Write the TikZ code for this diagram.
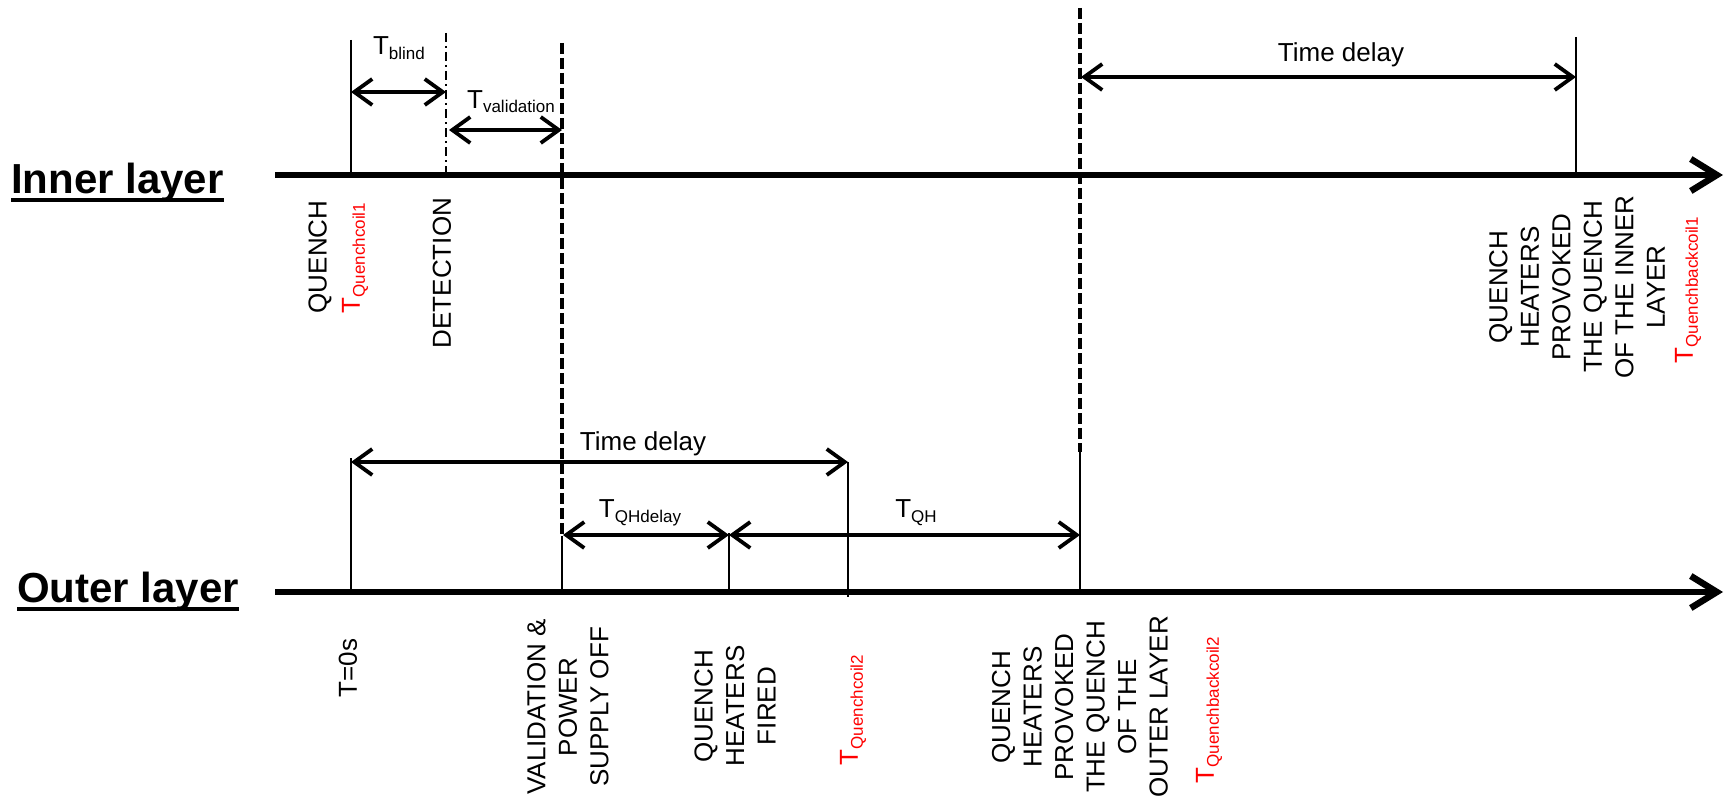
\documentclass[tikz,border=0pt]{standalone}
\usepackage{fontspec}
\setmainfont{Liberation Sans}
\usetikzlibrary{arrows.meta,positioning}

\newcommand{\tsub}[2]{#1\raisebox{-5pt}{\fontsize{17}{17}\selectfont #2}}
\newcommand{\ulayer}[1]{\setbox0=\hbox{#1}\usebox0\llap{\rule[-9pt]{\wd0}{4pt}}}

\begin{document}
\begin{tikzpicture}[
    x=1pt, y=-1pt,
    axis/.style={line width=6.5pt, -{Straight Barb[length=26pt, width=32pt]}},
    tick/.style={line width=2pt},
    dashline/.style={line width=4pt, dash pattern=on 11pt off 4pt},
    dashdot/.style={line width=2pt, dash pattern=on 9pt off 4pt on 2pt off 4pt},
    span/.style={line width=3.8pt, {Straight Barb[length=18pt, width=26pt]}-{Straight Barb[length=18pt, width=26pt]}},
    dur/.style={anchor=base, inner sep=0pt, font=\fontsize{26}{31}\selectfont},
    evt/.style={rotate=90, align=center, inner sep=0pt, font=\fontsize{26}{31.5}\selectfont},
    layer/.style={anchor=base west, inner sep=0pt, font=\fontsize{42}{50}\selectfont\bfseries}
]
    \useasboundingbox (0,0) rectangle (1725,800);

    % layer names
    \node[layer] (inner) at (11,193) {\ulayer{Inner layer}};
    \node[layer] (outer) at (17,602) {\ulayer{Outer layer}};

    % the two time axes
    \coordinate (inS) at (275,175);
    \coordinate (inE) at (1723,175);
    \coordinate (outS) at (275,592);
    \coordinate (outE) at (1723,592);
    \draw[axis] (inS) -- (inE);
    \draw[axis] (outS) -- (outE);

    % events on the inner layer
    \coordinate (quenchT) at (351,40);
    \coordinate (quench) at (351,175);
    \coordinate (detectT) at (446,33);
    \coordinate (detect) at (446,175);
    \coordinate (validT) at (562,43);
    \coordinate (validM) at (562,536);
    \coordinate (valid) at (562,592);
    \coordinate (provT) at (1080,8);
    \coordinate (provM) at (1080,452);
    \coordinate (prov) at (1080,592);
    \coordinate (backT) at (1576,37);
    \coordinate (back) at (1576,175);

    \draw[tick] (quenchT) -- (quench);
    \draw[dashdot] (detectT) -- (detect);
    \draw[dashline] (validT) -- (validM);
    \draw[tick] (validM) -- (valid);
    \draw[dashline] (provT) -- (provM);
    \draw[tick] (provM) -- (prov);
    \draw[tick] (backT) -- (back);

    % events on the outer layer
    \coordinate (zeroT) at (351,458);
    \coordinate (zero) at (351,592);
    \coordinate (firedT) at (729,533);
    \coordinate (fired) at (729,592);
    \coordinate (coilT) at (848,462);
    \coordinate (coil) at (848,597);

    \draw[tick] (zeroT) -- (zero);
    \draw[tick] (firedT) -- (fired);
    \draw[tick] (coilT) -- (coil);

    % durations
    \coordinate (blindA) at (351,92);
    \coordinate (blindB) at (446,92);
    \coordinate (checkA) at (449,130);
    \coordinate (checkB) at (562,130);
    \coordinate (delay1A) at (1081,77);
    \coordinate (delay1B) at (1576,77);
    \coordinate (delay2A) at (351,462);
    \coordinate (delay2B) at (848,462);
    \coordinate (qhdA) at (563,535);
    \coordinate (qhdB) at (729,535);
    \coordinate (qhB) at (1080,535);

    \draw[span] (blindA) -- (blindB);
    \draw[span] (checkA) -- (checkB);
    \draw[span] (delay1A) -- (delay1B);
    \draw[span] (delay2A) -- (delay2B);
    \draw[span] (qhdA) -- (qhdB);
    \draw[span] (qhdB) -- (qhB);

    \node[dur] (blind) at (399,55) {\tsub{T}{blind}};
    \node[dur] (check) at (511,108) {\tsub{T}{validation}};
    \node[dur] (delay1) at (1341,62) {Time delay};
    \node[dur] (delay2) at (643,450) {Time delay};
    \node[dur] (qhdelay) at (640,517) {\tsub{T}{QHdelay}};
    \node[dur] (qh) at (916,517) {\tsub{T}{QH}};

    % event labels, inner layer
    \node[evt] (quenchlbl) at (320,257) {QUENCH};
    \node[evt, text=red] (coil1) at (355,258) {\tsub{T}{Quenchcoil1}};
    \node[evt] (detectlbl) at (442,273) {DETECTION};
    \node[evt] (backlbl) at (1577,287) {QUENCH\\HEATERS\\PROVOKED\\THE QUENCH\\OF THE INNER\\LAYER};
    \node[evt, text=red] (back1) at (1688,290) {\tsub{T}{Quenchbackcoil1}};

    % event labels, outer layer
    \node[evt] (zerolbl) at (348,668) {T=0s};
    \node[evt] (validlbl) at (568,707) {VALIDATION \&\\POWER\\SUPPLY OFF};
    \node[evt] (firedlbl) at (735,706) {QUENCH\\HEATERS\\FIRED};
    \node[evt, text=red] (coil2) at (853,710) {\tsub{T}{Quenchcoil2}};
    \node[evt] (provlbl) at (1080,707) {QUENCH\\HEATERS\\PROVOKED\\THE QUENCH\\OF THE\\OUTER LAYER};
    \node[evt, text=red] (back2) at (1209,710) {\tsub{T}{Quenchbackcoil2}};
\end{tikzpicture}
\end{document}
